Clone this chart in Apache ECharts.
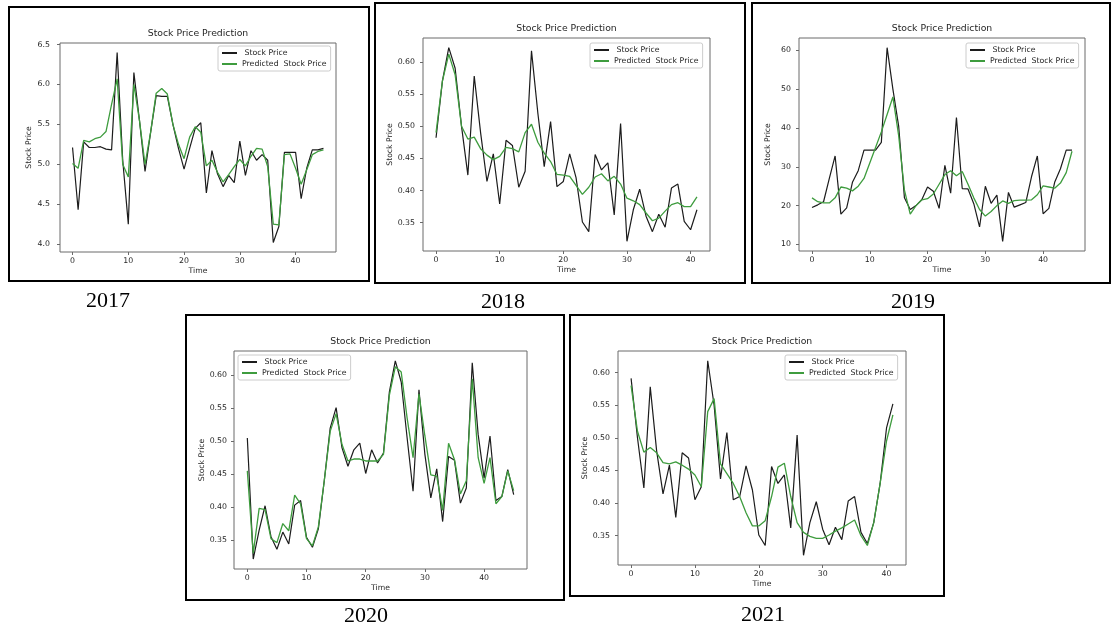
<!DOCTYPE html>
<html>
<head>
<meta charset="utf-8">
<script src="https://cdn.jsdelivr.net/npm/echarts@6/dist/echarts.min.js"></script>
<style>
html, body { margin: 0; padding: 0; background: #fff; }
#chart { width: 1114px; height: 630px; }
</style>
</head>
<body>
<div id="chart"></div>
<script>
// --- data ---
const years = ['2017', '2018', '2019', '2020', '2021'];

const actual2017 = [5.21, 4.43, 5.28, 5.21, 5.21, 5.22, 5.19, 5.18, 6.40, 5.05, 4.25, 6.15, 5.55, 4.91, 5.40, 5.86, 5.85, 5.85, 5.50, 5.20,
    4.94, 5.20, 5.45, 5.52, 4.64, 5.17, 4.88, 4.72, 4.86, 4.77, 5.29, 4.86, 5.17, 5.05, 5.12, 5.05, 4.02, 4.22, 5.15, 5.15,
    5.15, 4.57, 4.95, 5.18, 5.18, 5.20];
const predicted2017 = [5.01, 4.95, 5.30, 5.28, 5.32, 5.34, 5.41, 5.75, 6.07, 5.00, 4.84, 6.00, 5.55, 5.00, 5.40, 5.89, 5.95, 5.88, 5.50, 5.25,
    5.07, 5.34, 5.47, 5.40, 4.98, 5.05, 4.90, 4.78, 4.87, 4.97, 5.06, 4.98, 5.10, 5.20, 5.19, 4.97, 4.25, 4.24, 5.12, 5.13,
    4.95, 4.75, 4.93, 5.12, 5.16, 5.18];

const actual2018 = [0.482, 0.570, 0.622, 0.590, 0.500, 0.424, 0.578, 0.490, 0.414, 0.457, 0.379, 0.478, 0.470, 0.405, 0.430, 0.617, 0.520, 0.437, 0.507, 0.406,
    0.414, 0.457, 0.420, 0.351, 0.336, 0.456, 0.432, 0.443, 0.362, 0.504, 0.321, 0.370, 0.402, 0.360, 0.336, 0.363, 0.343, 0.404, 0.410, 0.352,
    0.339, 0.370];
const predicted2018 = [0.490, 0.570, 0.612, 0.580, 0.500, 0.480, 0.483, 0.465, 0.455, 0.448, 0.453, 0.467, 0.465, 0.460, 0.490, 0.503, 0.475, 0.458, 0.445, 0.425,
    0.424, 0.422, 0.408, 0.394, 0.405, 0.421, 0.426, 0.415, 0.422, 0.410, 0.388, 0.384, 0.378, 0.365, 0.353, 0.357, 0.368, 0.378, 0.381, 0.375,
    0.375, 0.390];

const actual2019 = [19.5, 20.2, 21.0, 27.0, 32.8, 17.8, 19.4, 26.0, 29.0, 34.3, 34.3, 34.3, 36.3, 60.7, 50.0, 40.5, 22.0, 19.0, 20.0, 21.5,
    24.8, 23.7, 19.3, 30.4, 23.2, 42.7, 24.4, 24.3, 20.5, 14.5, 25.0, 20.6, 22.7, 10.8, 23.4, 19.6, 20.2, 20.8, 27.5, 32.8,
    17.9, 19.3, 26.0, 29.5, 34.3, 34.3];
const predicted2019 = [22.0, 21.0, 20.7, 20.7, 22.0, 24.8, 24.5, 23.8, 25.0, 27.0, 31.0, 35.0, 39.0, 43.5, 48.0, 38.0, 24.0, 17.8, 20.0, 21.5,
    21.8, 23.0, 25.5, 28.0, 29.0, 27.7, 28.8, 25.5, 22.0, 19.0, 17.3, 18.5, 20.0, 21.2, 20.6, 21.3, 21.4, 21.4, 21.5, 22.8,
    25.1, 24.8, 24.5, 25.8, 28.5, 34.0];

const actual2020 = [0.505, 0.321, 0.365, 0.402, 0.355, 0.336, 0.362, 0.344, 0.403, 0.410, 0.354, 0.339, 0.367, 0.440, 0.520, 0.551, 0.490, 0.462, 0.487, 0.497,
    0.451, 0.487, 0.467, 0.482, 0.575, 0.622, 0.590, 0.505, 0.424, 0.578, 0.480, 0.414, 0.458, 0.378, 0.477, 0.471, 0.406, 0.429, 0.619, 0.510,
    0.444, 0.508, 0.410, 0.416, 0.457, 0.419];
const predicted2020 = [0.455, 0.330, 0.398, 0.396, 0.352, 0.346, 0.375, 0.364, 0.418, 0.405, 0.352, 0.341, 0.370, 0.440, 0.515, 0.542, 0.495, 0.470, 0.473, 0.473,
    0.470, 0.470, 0.470, 0.480, 0.570, 0.613, 0.605, 0.535, 0.475, 0.572, 0.508, 0.449, 0.447, 0.395, 0.497, 0.472, 0.420, 0.440, 0.595, 0.475,
    0.436, 0.475, 0.405, 0.416, 0.455, 0.425];

const actual2021 = [0.591, 0.500, 0.423, 0.578, 0.480, 0.414, 0.458, 0.378, 0.477, 0.469, 0.405, 0.425, 0.618, 0.550, 0.437, 0.508, 0.405, 0.410, 0.457, 0.420,
    0.351, 0.335, 0.456, 0.430, 0.443, 0.362, 0.504, 0.320, 0.370, 0.402, 0.360, 0.336, 0.363, 0.344, 0.403, 0.410, 0.355, 0.338, 0.370, 0.430,
    0.515, 0.552];
const predicted2021 = [0.580, 0.510, 0.478, 0.485, 0.477, 0.462, 0.460, 0.463, 0.458, 0.452, 0.443, 0.425, 0.540, 0.560, 0.460, 0.445, 0.430, 0.410, 0.385, 0.365,
    0.365, 0.373, 0.410, 0.455, 0.461, 0.410, 0.370, 0.355, 0.349, 0.346, 0.346, 0.351, 0.357, 0.362, 0.368, 0.374, 0.350, 0.335, 0.370, 0.430,
    0.495, 0.535];

const xTicks = [0, 10, 20, 30, 40];
const yTicks2017 = [4.0, 4.5, 5.0, 5.5, 6.0, 6.5];
const yTicks2018 = [0.35, 0.40, 0.45, 0.50, 0.55, 0.60];
const yTicks2019 = [10, 20, 30, 40, 50, 60];
const yTicks2020 = [0.35, 0.40, 0.45, 0.50, 0.55, 0.60];
const yTicks2021 = [0.35, 0.40, 0.45, 0.50, 0.55, 0.60];

const actualName = ' Stock Price';
const predictedName = 'Predicted  Stock Price';
const titleText = 'Stock Price Prediction';

// --- layout of each panel (page pixels) ---
const panels = [
    { actual: actual2017, predicted: predicted2017, yTicks: yTicks2017, dec: 1, labelGap: 10,
      box: [9, 7, 360, 274], grid: [60, 43, 276, 209], legend: [218, 46], year: [108, 301] },
    { actual: actual2018, predicted: predicted2018, yTicks: yTicks2018, dec: 2, labelGap: 8,
      box: [375, 3, 370, 280], grid: [423, 38, 287, 213], legend: [590, 43], year: [503, 302] },
    { actual: actual2019, predicted: predicted2019, yTicks: yTicks2019, dec: 0, labelGap: 8,
      box: [752, 3, 358, 280], grid: [799, 38, 286, 213], legend: [966, 43], year: [913, 302] },
    { actual: actual2020, predicted: predicted2020, yTicks: yTicks2020, dec: 2, labelGap: 7,
      box: [186, 315, 378, 285], grid: [234, 351, 293, 218], legend: [238, 355], year: [366, 616] },
    { actual: actual2021, predicted: predicted2021, yTicks: yTicks2021, dec: 2, labelGap: 8,
      box: [570, 315, 374, 281], grid: [618, 351, 288, 214], legend: [785, 355], year: [763, 615] }
];

const textColor = '#262626';
const frameColor = '#6a6a6a';
const font = '"DejaVu Sans", sans-serif';

function toPoints(values) {
    return values.map(function (v, i) { return [i, v]; });
}

const grids = [], xAxes = [], yAxes = [], series = [], legends = [], graphics = [];

panels.forEach(function (p, k) {
    const all = p.actual.concat(p.predicted);
    const lo = Math.min.apply(null, all), hi = Math.max.apply(null, all);
    const pad = (hi - lo) * 0.05;
    const n = p.actual.length - 1;

    grids.push({
        left: p.grid[0], top: p.grid[1], width: p.grid[2], height: p.grid[3],
        show: true, borderColor: frameColor, borderWidth: 1, backgroundColor: '#fff'
    });
    xAxes.push({
        type: 'value', gridIndex: k, min: -0.05 * n, max: n * 1.05,
        name: 'Time', nameLocation: 'middle', nameGap: 15,
        nameTextStyle: { color: textColor, fontSize: 7.7, fontFamily: font },
        axisLine: { show: false, onZero: false },
        axisTick: { show: true, inside: false, length: 3, customValues: xTicks, lineStyle: { color: frameColor } },
        axisLabel: { customValues: xTicks, margin: 5, color: textColor, fontSize: 7.8, fontFamily: font },
        splitLine: { show: false }
    });
    yAxes.push({
        type: 'value', gridIndex: k, min: lo - pad, max: hi + pad,
        name: 'Stock Price', nameLocation: 'middle', nameGap: 27,
        nameTextStyle: { color: textColor, fontSize: 7.7, fontFamily: font },
        axisLine: { show: false, onZero: false },
        axisTick: { show: true, inside: false, length: 3, customValues: p.yTicks, lineStyle: { color: frameColor } },
        axisLabel: {
            customValues: p.yTicks, margin: p.labelGap, color: textColor, fontSize: 7.8, fontFamily: font,
            formatter: function (v) { return Number(v).toFixed(p.dec); }
        },
        splitLine: { show: false }
    });
    series.push({
        name: actualName, type: 'line', xAxisIndex: k, yAxisIndex: k,
        data: toPoints(p.actual), showSymbol: false, symbol: 'none',
        color: '#1c1c1c', lineStyle: { width: 1.2, color: '#1c1c1c' }
    });
    series.push({
        name: predictedName, type: 'line', xAxisIndex: k, yAxisIndex: k,
        data: toPoints(p.predicted), showSymbol: false, symbol: 'none',
        color: '#3e9c3e', lineStyle: { width: 1.3, color: '#3e9c3e' }
    });
    legends.push({
        data: [actualName, predictedName], orient: 'vertical',
        left: p.legend[0], top: p.legend[1], padding: [3, 4, 3, 4], itemGap: 3,
        icon: 'rect', itemWidth: 15, itemHeight: 2,
        borderColor: '#cccccc', borderWidth: 1, borderRadius: 2, backgroundColor: '#fff',
        textStyle: { color: textColor, fontSize: 7.8, fontFamily: font },
        selectedMode: false
    });

    // outer frame, panel title and year caption
    graphics.push({
        type: 'rect', shape: { x: p.box[0], y: p.box[1], width: p.box[2], height: p.box[3] },
        style: { fill: null, stroke: '#000', lineWidth: 2 }, silent: true
    });
    graphics.push({
        type: 'text', x: p.grid[0] + p.grid[2] / 2, y: p.grid[1] - 9,
        style: { text: titleText, fill: textColor, font: '9.3px ' + font, textAlign: 'center', textVerticalAlign: 'middle' }
    });
    graphics.push({
        type: 'text', x: p.year[0], y: p.year[1],
        style: { text: years[k], fill: '#000', font: '22px "Liberation Serif", "Times New Roman", serif', textAlign: 'center', textVerticalAlign: 'middle' }
    });
});

const chart = echarts.init(document.getElementById('chart'));
chart.setOption({
    backgroundColor: '#fff',
    animation: false,
    grid: grids,
    xAxis: xAxes,
    yAxis: yAxes,
    legend: legends,
    series: series,
    graphic: graphics
});
</script>
</body>
</html>
